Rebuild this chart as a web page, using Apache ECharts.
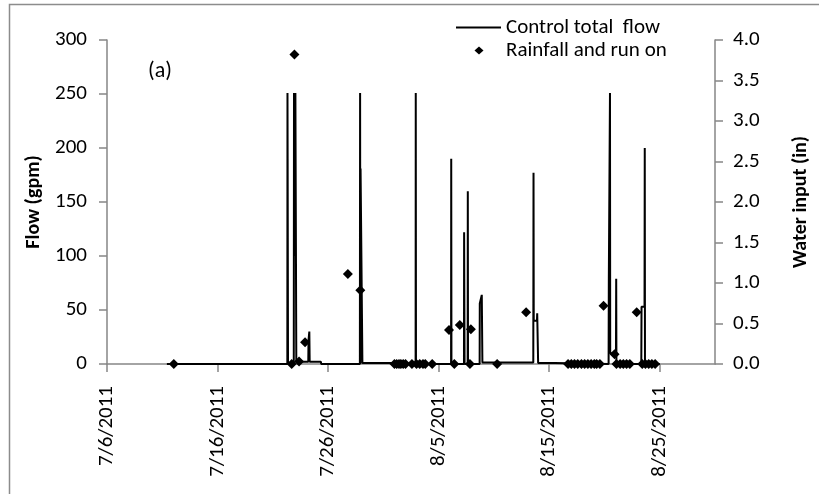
<!DOCTYPE html>
<html>
<head>
<meta charset="utf-8">
<script src="https://cdn.jsdelivr.net/npm/echarts@6/dist/echarts.min.js"></script>
<style>
html,body{margin:0;padding:0;background:#fff;}
#chart{width:819px;height:494px;}
</style>
</head>
<body>
<div id="chart"></div>
<script>
// ---- data ----
const startDate = "2011-07-06T00:00";
const xTickDays = [0, 10, 20, 30, 40, 50];   // 7/6 ... 8/25, axis ends 8/30
const flowTimes = [
  "2011-07-11T10:00","2011-07-22T07:30","2011-07-22T07:50","2011-07-22T08:10","2011-07-22T08:40","2011-07-22T09:00",
  "2011-07-22T21:30","2011-07-22T22:00","2011-07-22T23:00","2011-07-23T01:00","2011-07-23T03:00",
  "2011-07-24T05:00","2011-07-24T05:30","2011-07-24T07:00","2011-07-24T07:15","2011-07-24T08:00","2011-07-25T08:30","2011-07-25T09:00",
  "2011-07-28T21:00","2011-07-28T21:30","2011-07-28T22:00","2011-07-28T22:30","2011-07-29T02:00","2011-07-29T02:30","2011-07-31T19:00","2011-07-31T19:30",
  "2011-08-02T22:00","2011-08-02T22:20","2011-08-02T22:50",
  "2011-08-06T03:00","2011-08-06T03:20","2011-08-06T03:50",
  "2011-08-07T07:00","2011-08-07T07:20","2011-08-07T08:00","2011-08-07T08:20",
  "2011-08-07T15:00","2011-08-07T15:20","2011-08-07T15:50",
  "2011-08-08T17:00","2011-08-08T17:20","2011-08-08T21:30","2011-08-08T21:40","2011-08-08T22:30","2011-08-08T23:00",
  "2011-08-13T13:30","2011-08-13T14:00","2011-08-13T14:30","2011-08-13T21:30","2011-08-13T22:00","2011-08-14T00:00","2011-08-15T12:00","2011-08-15T12:30",
  "2011-08-20T09:00","2011-08-20T09:30","2011-08-20T11:30","2011-08-20T12:00","2011-08-20T12:30","2011-08-21T01:00","2011-08-21T01:30","2011-08-21T02:00",
  "2011-08-23T08:00","2011-08-23T08:30","2011-08-23T15:00","2011-08-23T15:30","2011-08-23T16:00","2011-08-25T00:00"
];
const flowValues = [
  0,0,251,190,190,0,
  0,251,100,251,2,
  2,22,22,30,2,2,0,
  0,251,0,181,181,1,1,0,
  0,251,0,
  0,190,0,
  0,122,122,0,
  0,160,0,
  0,56,56,64,64,1.5,
  1.5,177,40,40,47,1,1,0,
  0,79,79,251,10,10,79,0,
  0,53,53,200,0,0
];
const rainTimes = [
  "2011-07-12T01:00","2011-07-22T17:00","2011-07-22T23:00","2011-07-23T09:00","2011-07-23T22:00",
  "2011-07-27T19:00","2011-07-28T22:00",
  "2011-08-01T00:00","2011-08-01T05:00","2011-08-01T10:00","2011-08-01T14:00","2011-08-01T19:00","2011-08-02T00:00",
  "2011-08-02T14:00","2011-08-03T00:00","2011-08-03T07:00","2011-08-03T14:00","2011-08-03T19:00","2011-08-04T10:00",
  "2011-08-05T22:30","2011-08-06T10:00","2011-08-06T22:00","2011-08-07T20:00","2011-08-07T22:00","2011-08-10T07:00",
  "2011-08-12T22:00",
  "2011-08-16T17:00","2011-08-17T00:00","2011-08-17T07:00","2011-08-17T14:00","2011-08-17T22:00","2011-08-18T05:00",
  "2011-08-18T12:00","2011-08-18T19:00","2011-08-19T02:00","2011-08-19T07:00","2011-08-19T14:00",
  "2011-08-19T22:00","2011-08-20T22:00",
  "2011-08-21T02:00","2011-08-21T10:00","2011-08-21T17:00","2011-08-22T00:00","2011-08-22T07:00",
  "2011-08-22T22:00",
  "2011-08-23T10:00","2011-08-23T17:00","2011-08-24T00:00","2011-08-24T07:00","2011-08-24T14:00"
];
const rainValues = [
  0,0,3.82,0.03,0.27,
  1.11,0.91,
  0,0,0,0,0,0,
  0,0,0,0,0,0,
  0.42,0,0.48,0,0.43,0,
  0.64,
  0,0,0,0,0,0,
  0,0,0,0,0,
  0.72,0.12,
  0,0,0,0,0,
  0.64,
  0,0,0,0,0
];
const flowTicks = {min: 0, max: 300, interval: 50};
const rainTicks = {min: 0, max: 4, interval: 0.5};
const seriesNames = ["Control total  flow", "Rainfall and run on"];

// ---- helpers ----
const base = Date.parse(startDate + ":00Z");
function dayOf(s){ return (Date.parse(s + ":00Z") - base) / 86400000; }
function fmtDay(v){
  const d = new Date(base + v * 86400000);
  return (d.getUTCMonth()+1) + "/" + d.getUTCDate() + "/" + d.getUTCFullYear();
}
const flowData = flowTimes.map((t,i)=>[dayOf(t), flowValues[i]]);
const rainData = rainTimes.map((t,i)=>[dayOf(t), rainValues[i]]);

const FONT = "Carlito, Lato, sans-serif";
const AX = "#868686";
const TICK_FS = 21;
const chart = echarts.init(document.getElementById('chart'), null, {renderer:'canvas'});
chart.setOption({
  animation: false,
  backgroundColor: '#fff',
  textStyle: {fontFamily: FONT, color: '#000'},
  grid: {left: 107, right: 101, top: 40, bottom: 130, containLabel: false},
  legend: [{
    data: [{name: seriesNames[0], icon: 'path://M0,0L45,0L45,2L0,2Z'}],
    left: 451, top: 12, itemWidth: 45, itemHeight: 2, itemGap: 0,
    textStyle: {fontFamily: FONT, fontSize: 21, color: '#000'}
  },{
    data: [{name: seriesNames[1], icon: 'path://M0,4L0.01,4Z M23,0L27.5,4L23,8L18.5,4Z M45,4L44.99,4Z'}],
    left: 451, top: 35, itemWidth: 45, itemHeight: 10, itemGap: 0,
    textStyle: {fontFamily: FONT, fontSize: 21, color: '#000'}
  }],
  xAxis: {
    type: 'value', min: 0, max: 55, interval: 10,
    axisLine: {show: true, lineStyle: {color: AX, width: 1.5}},
    axisTick: {show: true, inside: false, length: 8, lineStyle: {color: AX, width: 1.5}},
    splitLine: {show: false},
    axisLabel: {rotate: 90, margin: 22, fontSize: TICK_FS, color: '#000', fontFamily: FONT,
      formatter: v => fmtDay(v), showMaxLabel: false}
  },
  yAxis: [{
    type: 'value', min: flowTicks.min, max: flowTicks.max, interval: flowTicks.interval,
    name: 'Flow (gpm)', nameLocation: 'middle', nameGap: 58, nameRotate: 90,
    nameTextStyle: {fontFamily: FONT, fontSize: 20, fontWeight: 'bold', color: '#000'},
    axisLine: {show: true, lineStyle: {color: AX, width: 1.5}},
    axisTick: {show: true, length: 8, lineStyle: {color: AX, width: 1.5}},
    splitLine: {show: false},
    axisLabel: {margin: 20, fontSize: TICK_FS, color: '#000', fontFamily: FONT}
  },{
    type: 'value', position: 'right', min: rainTicks.min, max: rainTicks.max, interval: rainTicks.interval,
    name: 'Water input (in)', nameLocation: 'middle', nameGap: 76, nameRotate: 90,
    nameTextStyle: {fontFamily: FONT, fontSize: 20, fontWeight: 'bold', color: '#000'},
    axisLine: {show: true, lineStyle: {color: AX, width: 1.5}},
    axisTick: {show: true, length: 8, lineStyle: {color: AX, width: 1.5}},
    splitLine: {show: false},
    axisLabel: {margin: 18, fontSize: TICK_FS, color: '#000', fontFamily: FONT, formatter: v => v.toFixed(1)}
  }],
  graphic: [
    {type: 'rect', silent: true, shape: {x: 9.5, y: 4.5, width: 840, height: 520},
     style: {fill: 'none', stroke: '#8c8c8c', lineWidth: 1.5}},
    {type: 'text', left: 148, top: 60, style: {text: '(a)', font: '22px ' + FONT, fill: '#000'}}
  ],
  series: [{
    name: seriesNames[0], type: 'line', yAxisIndex: 0, data: flowData,
    symbol: 'none', showSymbol: false, lineStyle: {color: '#000', width: 2}, itemStyle: {color: '#000'}, z: 2
  },{
    name: seriesNames[1], type: 'scatter', yAxisIndex: 1, data: rainData,
    symbol: 'diamond', symbolSize: 10, itemStyle: {color: '#000', opacity: 1}, z: 3
  }]
});
</script>
</body>
</html>
